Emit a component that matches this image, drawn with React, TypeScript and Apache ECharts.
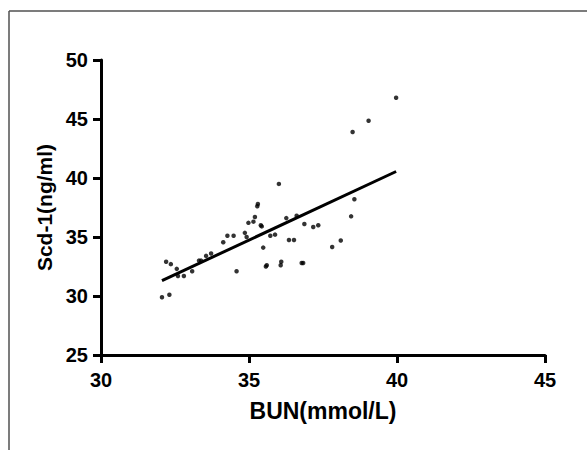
import React, { useEffect, useRef } from "react";
import * as echarts from "echarts";

const bunValues: number[] = [
  32.06, 32.31, 32.2, 32.36, 32.56, 32.6, 32.8, 33.08, 33.31, 33.38,
  33.55, 33.72, 34.13, 34.27, 34.48, 34.58, 34.86, 34.92, 34.98, 35.15,
  35.2, 35.28, 35.3, 35.4, 35.43, 35.48, 35.57, 35.6, 35.72, 35.88,
  36.01, 36.26, 36.61, 36.09, 36.07, 36.35, 36.52, 36.78, 36.83, 36.87,
  37.17, 37.34, 37.81, 38.1, 38.45, 38.56, 38.5, 39.04, 39.97,
];
const scdValues: number[] = [
  29.9, 30.1, 32.9, 32.7, 32.3, 31.7, 31.7, 32.1, 33.0, 33.0,
  33.4, 33.6, 34.55, 35.1, 35.1, 32.1, 35.35, 35.0, 36.2, 36.3,
  36.7, 37.6, 37.8, 36.0, 35.9, 34.1, 32.5, 32.6, 35.1, 35.2,
  39.5, 36.6, 36.8, 32.9, 32.6, 34.75, 34.75, 32.8, 32.8, 36.1,
  35.85, 36.0, 34.15, 34.7, 36.75, 38.2, 43.9, 44.85, 46.8,
];
const fitX: number[] = [32.06, 39.97];
const fitY: number[] = [31.3, 40.55];

const xTitle = "BUN(mmol/L)";
const yTitle = "Scd-1(ng/ml)";

export default function App() {
  const ref = useRef<HTMLDivElement>(null);
  useEffect(() => {
    document.body.style.margin = "0";
    const chart = echarts.init(ref.current!, null, { renderer: "svg" });
    const font = "Liberation Sans, Arial, sans-serif";
    chart.setOption({
      animation: false,
      backgroundColor: "#ffffff",
      grid: { left: 101, top: 60, right: 42, bottom: 95, containLabel: false },
      xAxis: {
        type: "value",
        min: 30,
        max: 45,
        interval: 5,
        name: xTitle,
        nameLocation: "middle",
        nameGap: 44,
        nameTextStyle: { fontFamily: font, fontWeight: "bold", fontSize: 23, color: "#000" },
        axisLine: { show: true, lineStyle: { color: "#000", width: 3 } },
        axisTick: { show: true, length: 8, lineStyle: { color: "#000", width: 3 } },
        axisLabel: { fontFamily: font, fontWeight: "bold", fontSize: 20, color: "#000", margin: 15 },
        splitLine: { show: false },
      },
      yAxis: {
        type: "value",
        min: 25,
        max: 50,
        interval: 5,
        name: yTitle,
        nameLocation: "middle",
        nameGap: 40,
        nameRotate: 90,
        nameTextStyle: { fontFamily: font, fontWeight: "bold", fontSize: 21, color: "#000" },
        axisLine: { show: true, lineStyle: { color: "#000", width: 3 } },
        axisTick: { show: true, length: 8, lineStyle: { color: "#000", width: 3 } },
        axisLabel: { fontFamily: font, fontWeight: "bold", fontSize: 20, color: "#000", margin: 13 },
        splitLine: { show: false },
      },
      graphic: [
        { type: "line", shape: { x1: 9, y1: 11, x2: 587, y2: 11 }, style: { stroke: "#505050", lineWidth: 1.5 } },
        { type: "line", shape: { x1: 9, y1: 11, x2: 9, y2: 450 }, style: { stroke: "#505050", lineWidth: 1.5 } },
      ],
      series: [
        {
          type: "scatter",
          data: bunValues.map((x, i) => [x, scdValues[i]]),
          symbol: "circle",
          symbolSize: 4.5,
          itemStyle: { color: "#000" },
        },
        {
          type: "line",
          data: fitX.map((x, i) => [x, fitY[i]]),
          showSymbol: false,
          symbol: "none",
          lineStyle: { color: "#000", width: 3 },
        },
      ],
    });
    return () => chart.dispose();
  }, []);
  return <div ref={ref} style={{ width: 587, height: 450 }} />;
}
